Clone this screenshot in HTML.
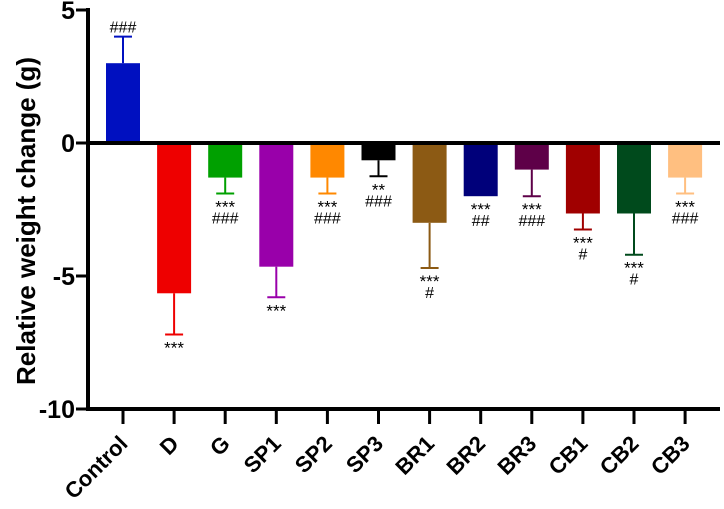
<!DOCTYPE html>
<html><head><meta charset="utf-8">
<style>
html,body{margin:0;padding:0;background:#fff;}
svg{display:block;font-family:"Liberation Sans",Arial,sans-serif;}
</style></head>
<body>
<svg id="chart" width="724" height="509" viewBox="0 0 724 509" xmlns="http://www.w3.org/2000/svg"></svg>
<script>
const categories=["Control","D","G","SP1","SP2","SP3","BR1","BR2","BR3","CB1","CB2","CB3"];
const values=[3.0,-5.65,-1.3,-4.65,-1.3,-0.65,-3.0,-2.0,-1.0,-2.65,-2.65,-1.3];
const errors=[1.0,1.55,0.6,1.15,0.6,0.6,1.7,0.0,1.0,0.6,1.55,0.6];
const colors=["#0010c0","#ee0000","#00a000","#9900aa","#ff8800","#000000","#8c5a14","#00007a","#5e0048","#a00000","#004a1c","#ffbf80"];
const starLabels=["","***","***","***","***","**","***","***","***","***","***","***"];
const hashLabels=["###","","###","","###","###","#","##","###","#","#","###"];
const yTicks=[5,0,-5,-10];
const ns="http://www.w3.org/2000/svg";
const svg=document.getElementById("chart");
const y0=143, pxPerUnit=26.6;
function yScale(v){return y0-v*pxPerUnit;}
function xScale(i){return 123+i*51.1;}
function mk(tag,attrs,parent){const e=document.createElementNS(ns,tag);for(const k in attrs)e.setAttribute(k,attrs[k]);(parent||svg).appendChild(e);return e;}
categories.forEach((c,i)=>{
  const v=values[i],cx=xScale(i),w=34;
  const col=colors[i];
  const yt=Math.min(yScale(v),y0),h=Math.abs(yScale(v)-y0);
  const b=mk("rect",{x:cx-w/2,y:yt,width:w,height:h,fill:col});
  
  
  const ev=v+(v>=0?errors[i]:-errors[i]);
  if(errors[i]>0){
    const g=mk("g",{stroke:col,"stroke-width":2});
    
    
    mk("line",{x1:cx,x2:cx,y1:yScale(v),y2:yScale(ev)},g);
    mk("line",{x1:cx-9,x2:cx+9,y1:yScale(ev),y2:yScale(ev)},g);
  }
  let ty=v>=0?yScale(ev)-10:yScale(ev)+13;
  if(starLabels[i]){
    const t=mk("text",{x:cx,y:ty+6,"text-anchor":"middle","font-size":"17",fill:"#000"});
    t.textContent=starLabels[i];
    
    
    ty+=13;
  }
  if(hashLabels[i]){
    const t=mk("text",{x:cx,y:v>=0?ty+6:ty+4,"text-anchor":"middle","font-size":"16",fill:"#000"});
    t.textContent=hashLabels[i];
    
    
  }
  const tk=mk("line",{x1:cx,x2:cx,y1:409,y2:424,stroke:"#000","stroke-width":3});
  
  
  const lx=cx+6,ly=445;
  const lt=mk("text",{x:lx,y:ly,"text-anchor":"end","font-size":"22","font-weight":"bold",transform:`rotate(-45 ${lx} ${ly})`});
  lt.textContent=c;
  
  
});
const ya=mk("line",{x1:88,x2:88,y1:8,y2:411,stroke:"#000","stroke-width":4});


const xa=mk("line",{x1:86,x2:720,y1:409,y2:409,stroke:"#000","stroke-width":4});


const zl=mk("line",{x1:86,x2:720,y1:y0,y2:y0,stroke:"#000","stroke-width":4});


yTicks.forEach(t=>{
  const y=yScale(t);
  const l=mk("line",{x1:76,x2:88,y1:y,y2:y,stroke:"#000","stroke-width":3});
  
  
  const tx=mk("text",{x:75,y:y+9,"text-anchor":"end","font-size":"25","font-weight":"bold"});
  tx.textContent=t;
  
  
});
const yt=mk("text",{x:0,y:0,"text-anchor":"middle","font-size":"26","font-weight":"bold",transform:"translate(35 221) rotate(-90)"});
yt.textContent="Relative weight change (g)";


</script>
</body></html>
